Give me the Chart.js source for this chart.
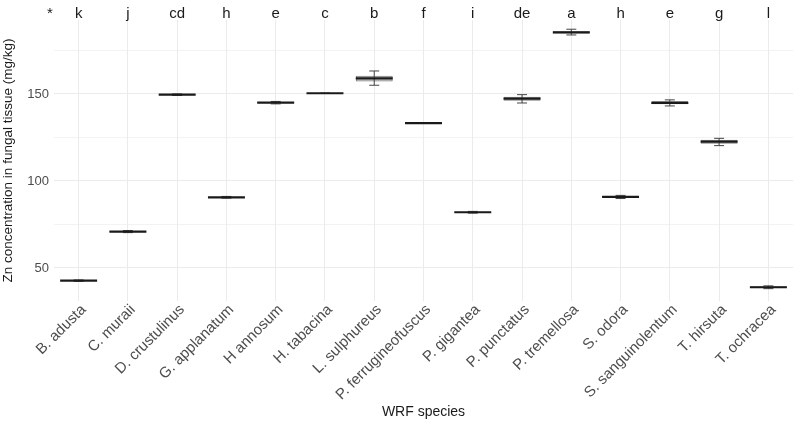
<!DOCTYPE html>
<html>
<head>
<meta charset="utf-8">
<script src="https://cdn.jsdelivr.net/npm/chart.js@4.4.1/dist/chart.umd.min.js"></script>
<style>
  html, body { margin: 0; padding: 0; background: #fff; }
  #wrap { width: 800px; height: 426px; }
</style>
</head>
<body>
<div id="wrap"><canvas id="zincChart"></canvas></div>
<script>
// Species and significance letters
const species = ['B. adusta', 'C. muraii', 'D. crustulinus', 'G. applanatum', 'H annosum', 'H. tabacina',
  'L. sulphureus', 'P. ferrugineofuscus', 'P. gigantea', 'P. punctatus', 'P. tremellosa', 'S. odora',
  'S. sanguinolentum', 'T. hirsuta', 'T. ochracea'];
const letters = ['k', 'j', 'cd', 'h', 'e', 'c', 'b', 'f', 'i', 'de', 'a', 'h', 'e', 'g', 'l'];

// Box statistics (mg/kg)
const medians     = [42.7, 70.9, 149.6, 90.6, 145.0, 150.4, 159.0, 133.2, 82.0, 147.3, 185.4, 90.8, 144.8, 122.6, 38.9];
const q1          = [42.5, 70.5, 149.3, 90.3, 144.6, 150.4, 157.1, 133.2, 81.7, 146.1, 184.7, 90.3, 144.1, 121.4, 38.4];
const q3          = [42.9, 71.3, 149.8, 90.9, 145.4, 150.4, 160.5, 133.2, 82.3, 148.4, 186.0, 91.3, 146.0, 123.7, 39.5];
const whiskerLow  = [42.3, 70.3, 149.1, 90.1, 144.3, 150.4, 155.0, 133.2, 81.5, 144.8, 183.9, 89.9, 143.1, 120.3, 38.1];
const whiskerHigh = [43.1, 71.5, 150.0, 91.1, 145.7, 150.4, 163.2, 133.2, 82.5, 149.6, 187.2, 91.7, 146.6, 124.5, 39.7];

const yTicks = [50, 100, 150];
const FONT = '"Liberation Sans", Arial, sans-serif';

// Draws whiskers, medians and the letters on top
const boxExtras = {
  id: 'boxExtras',
  afterDatasetsDraw(chart) {
    const ctx = chart.ctx;
    const x = chart.scales.x;
    const y = chart.scales.y;
    const meta = chart.getDatasetMeta(0);
    ctx.save();
    species.forEach((s, i) => {
      const cx = x.getPixelForValue(i);
      const half = meta.data[i].width / 2;
      // whiskers
      ctx.strokeStyle = '#444';
      ctx.lineWidth = 1;
      ctx.beginPath();
      ctx.moveTo(cx, y.getPixelForValue(whiskerLow[i]));
      ctx.lineTo(cx, y.getPixelForValue(whiskerHigh[i]));
      [whiskerLow[i], whiskerHigh[i]].forEach(v => {
        const py = y.getPixelForValue(v);
        ctx.moveTo(cx - 5, py);
        ctx.lineTo(cx + 5, py);
      });
      ctx.stroke();
      // median
      ctx.strokeStyle = '#1a1a1a';
      ctx.lineWidth = 2.2;
      ctx.beginPath();
      const my = y.getPixelForValue(medians[i]);
      ctx.moveTo(cx - half, my);
      ctx.lineTo(cx + half, my);
      ctx.stroke();
      // letters
      ctx.fillStyle = '#1a1a1a';
      ctx.font = '15px ' + FONT;
      ctx.textAlign = 'center';
      ctx.textBaseline = 'middle';
      ctx.fillText(letters[i], cx, 14);
    });
    ctx.fillText('*', chart.chartArea.left - 4, 14);
    ctx.restore();
  }
};

const ctx = document.getElementById('zincChart').getContext('2d');
new Chart(ctx, {
  type: 'bar',
  data: {
    labels: species,
    datasets: [{
      label: 'Zn',
      data: species.map((s, i) => [q1[i], q3[i]]),
      backgroundColor: 'rgba(120,120,120,0.4)',
      borderColor: 'rgba(90,90,90,0.8)',
      borderWidth: 1,
      borderSkipped: false,
      categoryPercentage: 1,
      barPercentage: 0.75
    }]
  },
  options: {
    responsive: true,
    maintainAspectRatio: false,
    animation: false,
    layout: { padding: { top: 20, right: 7, left: 0, bottom: 0 } },
    plugins: {
      legend: { display: false },
      tooltip: { enabled: false }
    },
    scales: {
      x: {
        offset: true,
        afterFit(scale) { scale.height = 125; },
        grid: { offset: false, color: '#ebebeb', drawTicks: false },
        border: { display: false },
        ticks: {
          color: '#4d4d4d',
          font: { family: FONT, size: 15 },
          minRotation: 45,
          maxRotation: 45,
          autoSkip: false,
          padding: 0,
          labelOffset: 5
        },
        title: {
          display: true,
          text: 'WRF species',
          color: '#1a1a1a',
          font: { family: FONT, size: 14 },
          padding: { top: 0, bottom: 5 }
        }
      },
      y: {
        min: 31,
        max: 192.5,
        afterFit(scale) { scale.width = 54; },
        afterBuildTicks(scale) {
          const t = [];
          for (let v = 50; v <= 175; v += 25) t.push({ value: v });
          scale.ticks = t;
        },
        grid: {
          drawTicks: false,
          color: '#ebebeb',
          lineWidth: c => (yTicks.includes(c.tick.value) ? 1.1 : 0.6)
        },
        border: { display: false },
        ticks: {
          color: '#4d4d4d',
          font: { family: FONT, size: 13 },
          padding: 5,
          callback: v => (yTicks.includes(v) ? v : '')
        },
        title: {
          display: true,
          text: 'Zn concentration in fungal tissue (mg/kg)',
          color: '#1a1a1a',
          font: { family: FONT, size: 13.5 },
          padding: { top: 0, bottom: 1 }
        }
      }
    }
  },
  plugins: [boxExtras]
});
</script>
</body>
</html>
